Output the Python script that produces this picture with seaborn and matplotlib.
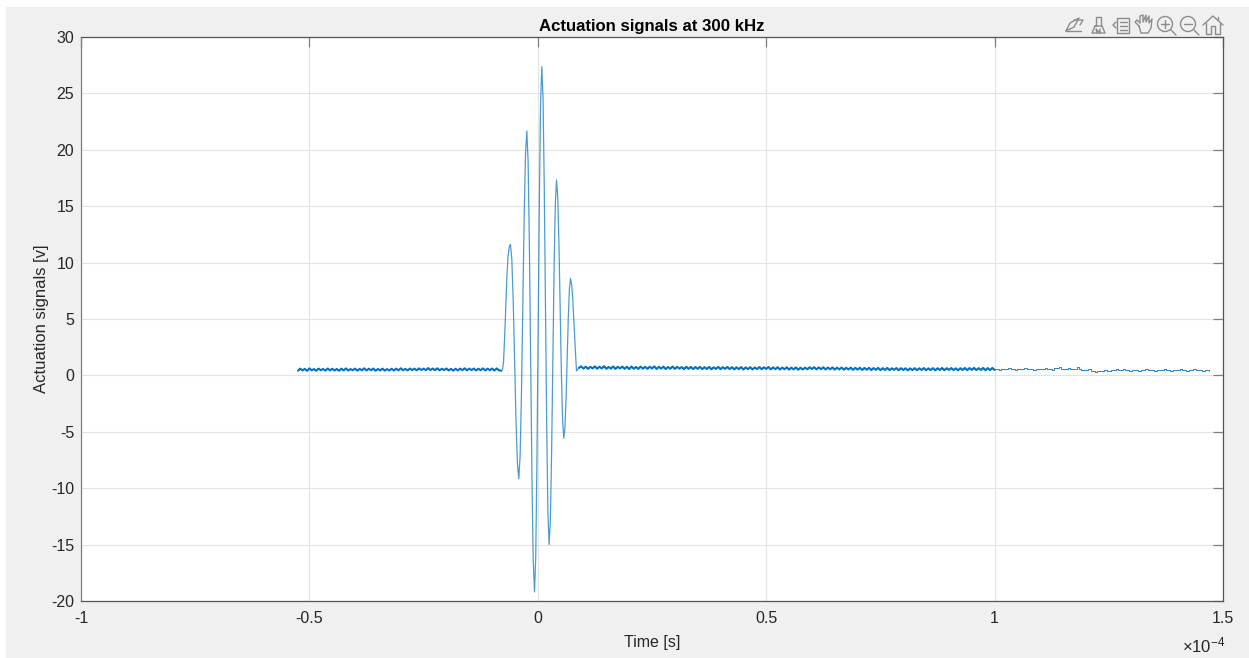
import numpy as np
import pandas as pd
import matplotlib
matplotlib.use("Agg")
import matplotlib.pyplot as plt
import seaborn as sns
from matplotlib.patches import Circle, Rectangle

# Time in units of 1e-4 s, voltage in V
burst_t = [-0.0773, -0.075, -0.0725, -0.070, -0.0675, -0.065, -0.0625, -0.0598,
           -0.0568, -0.0537, -0.0507, -0.0477, -0.0446, -0.0416,
           -0.0387, -0.0357, -0.0328, -0.0299, -0.0269, -0.024,
           -0.0212, -0.0184, -0.0156, -0.0128, -0.0100, -0.0072,
           -0.0045, -0.0019, 0.0008, 0.0035, 0.0061, 0.0088,
           0.0115, 0.0141, 0.0168, 0.0195, 0.0221, 0.0248,
           0.0275, 0.0302, 0.0329, 0.0356, 0.0383, 0.041,
           0.0437, 0.0463, 0.049, 0.0517, 0.0543, 0.057,
           0.0594, 0.0619, 0.0643, 0.0667, 0.0692, 0.0716,
           0.0742, 0.0768, 0.0794, 0.0819, 0.0847, 0.0875, 0.09]
burst_v = [0.5, 1.2, 3.5, 6.2, 8.9, 10.6, 11.4, 11.62,
           10.23, 6.42, 1.22, -3.98, -7.79, -9.18,
           -7.11, -1.47, 6.25, 13.96, 19.6, 21.67,
           18.93, 11.45, 1.24, -8.98, -16.46, -19.2,
           -16.08, -7.56, 4.09, 15.73, 24.25, 27.37,
           24.53, 16.78, 6.19, -4.41, -12.16, -15.0,
           -12.83, -6.92, 1.16, 9.24, 15.15, 17.32,
           15.79, 11.6, 5.87, 0.15, -4.05, -5.58,
           -4.63, -2.04, 1.51, 5.06, 7.65, 8.6,
           8.05, 6.55, 4.5, 2.45, 0.39, 0.55, 0.67]

sample_step = 0.005

left_start = -0.525
left_v = [0.42, 0.6, 0.44, 0.58, 0.4, 0.62, 0.45, 0.56, 0.41, 0.6,
          0.46, 0.57, 0.42, 0.61, 0.44, 0.59, 0.43, 0.57, 0.41, 0.6,
          0.44, 0.62, 0.43, 0.56, 0.46, 0.6, 0.42, 0.58, 0.45, 0.63,
          0.43, 0.59, 0.46, 0.61, 0.41, 0.57, 0.44, 0.6, 0.42, 0.56,
          0.44, 0.59, 0.43, 0.6, 0.45, 0.63, 0.46, 0.58, 0.44, 0.61,
          0.47, 0.6, 0.45, 0.62, 0.48, 0.6, 0.46, 0.65, 0.47, 0.61,
          0.46, 0.63, 0.45, 0.59, 0.47, 0.61, 0.44, 0.58, 0.42, 0.59,
          0.44, 0.6, 0.46, 0.63, 0.45, 0.6, 0.47, 0.61, 0.44, 0.59,
          0.46, 0.62, 0.44, 0.6, 0.46, 0.61, 0.43, 0.62, 0.45, 0.42]

mid_start = 0.09
mid_v = [0.67, 0.8, 0.6, 0.78, 0.58, 0.76, 0.62, 0.8, 0.59, 0.77,
         0.61, 0.82, 0.58, 0.75, 0.6, 0.79, 0.57, 0.76, 0.62, 0.78,
         0.58, 0.77, 0.56, 0.79, 0.59, 0.75, 0.57, 0.78, 0.6, 0.76,
         0.58, 0.77, 0.61, 0.8, 0.57, 0.76, 0.6, 0.78, 0.56, 0.75,
         0.59, 0.79, 0.57, 0.76, 0.6, 0.74, 0.55, 0.77, 0.58, 0.75,
         0.56, 0.74, 0.58, 0.76, 0.55, 0.73, 0.57, 0.75, 0.54, 0.72,
         0.57, 0.76, 0.55, 0.73, 0.58, 0.75, 0.56, 0.73, 0.53, 0.72,
         0.55, 0.74, 0.52, 0.71, 0.55, 0.73, 0.53, 0.7, 0.56, 0.74,
         0.54, 0.72, 0.57, 0.75, 0.53, 0.71, 0.55, 0.73, 0.52, 0.7,
         0.54, 0.72, 0.51, 0.69, 0.53, 0.71, 0.5, 0.68, 0.52, 0.69,
         0.54, 0.72, 0.56, 0.73, 0.53, 0.71, 0.55, 0.72, 0.52, 0.7,
         0.54, 0.71, 0.51, 0.69, 0.53, 0.7, 0.5, 0.68, 0.52, 0.69,
         0.49, 0.67, 0.51, 0.68, 0.48, 0.66, 0.5, 0.67, 0.47, 0.65,
         0.49, 0.67, 0.46, 0.64, 0.48, 0.66, 0.47, 0.63, 0.49, 0.65,
         0.46, 0.64, 0.48, 0.63, 0.45, 0.62, 0.47, 0.64, 0.46, 0.63,
         0.48, 0.65, 0.46, 0.62, 0.47, 0.64, 0.45, 0.63, 0.48, 0.66,
         0.46, 0.64, 0.49, 0.65, 0.47, 0.63, 0.45, 0.64, 0.48, 0.66,
         0.46, 0.65, 0.49, 0.67, 0.47, 0.64, 0.48, 0.66, 0.46, 0.65,
         0.47, 0.66, 0.48]

tail_start = 1.0
tail_v = [0.55, 0.55, 0.46, 0.55, 0.55, 0.55, 0.64, 0.55, 0.55, 0.47,
          0.6, 0.6, 0.6, 0.7, 0.6, 0.6, 0.6, 0.51, 0.6, 0.6,
          0.6, 0.6, 0.7, 0.6, 0.6, 0.52, 0.62, 0.62, 0.72, 0.55,
          0.55, 0.55, 0.66, 0.55, 0.6, 0.6, 0.72, 0.55, 0.44, 0.44,
          0.44, 0.54, 0.42, 0.42, 0.34, 0.42, 0.42, 0.42, 0.52, 0.42,
          0.42, 0.46, 0.46, 0.56, 0.48, 0.48, 0.58, 0.48, 0.48, 0.4,
          0.52, 0.52, 0.52, 0.42, 0.48, 0.48, 0.58, 0.46, 0.46, 0.46,
          0.38, 0.46, 0.46, 0.46, 0.56, 0.45, 0.45, 0.36, 0.45, 0.45,
          0.45, 0.55, 0.45, 0.45, 0.36, 0.47, 0.47, 0.58, 0.47, 0.47,
          0.47, 0.38, 0.45, 0.45, 0.36]

x_ticks = [-1, -0.5, 0, 0.5, 1, 1.5]
x_tick_labels = ["-1", "-0.5", "0", "0.5", "1", "1.5"]
y_ticks = [-20, -15, -10, -5, 0, 5, 10, 15, 20, 25, 30]
y_tick_labels = ["-20", "-15", "-10", "-5", "0", "5", "10", "15", "20", "25", "30"]

# Samples are evenly spaced outside the burst
left_t = left_start + sample_step * np.arange(len(left_v))
mid_t = mid_start + sample_step * np.arange(len(mid_v))
tail_t = tail_start + sample_step * np.arange(len(tail_v))

left_df = pd.DataFrame({"t": left_t, "v": left_v})
burst_df = pd.DataFrame({"t": burst_t, "v": burst_v})
mid_df = pd.DataFrame({"t": mid_t, "v": mid_v})
tail_df = pd.DataFrame({"t": tail_t, "v": tail_v})

sns.set_theme(style="whitegrid")
plt.rcParams["font.family"] = ["Liberation Sans", "DejaVu Sans"]
plt.rcParams["mathtext.fontset"] = "custom"
plt.rcParams["mathtext.rm"] = "Liberation Sans"
plt.rcParams["mathtext.default"] = "regular"

BG = "#f0f0f0"
DARK = "#262626"
AXIS = "#555555"
LINE = "#0072BD"

fig = plt.figure(figsize=(12.49, 6.58), dpi=100, facecolor="white")

# Window background and toolbar sit on an overlay in pixel coordinates
back = fig.add_axes([0, 0, 1, 1], zorder=0)
back.set_xlim(0, 1249)
back.set_ylim(658, 0)
back.axis("off")
back.add_patch(Rectangle((6, 7), 1243, 651, color=BG, lw=0))

ax = fig.add_axes([81 / 1249, 57 / 658, 1142 / 1249, 564 / 658], zorder=1, facecolor="white")
# noisy baseline renders as a thick band, burst and tail as a thin line
sns.lineplot(data=left_df, x="t", y="v", estimator=None, sort=False, color=LINE, linewidth=1.5, ax=ax)
sns.lineplot(data=mid_df, x="t", y="v", estimator=None, sort=False, color=LINE, linewidth=1.5, ax=ax)
sns.lineplot(data=burst_df, x="t", y="v", estimator=None, sort=False, color=LINE, linewidth=0.9,
             alpha=0.7, ax=ax)
sns.lineplot(data=tail_df, x="t", y="v", estimator=None, sort=False, color=LINE, linewidth=0.7,
             alpha=0.85, drawstyle="steps-post", ax=ax)

ax.set_xlim(-1, 1.5)
ax.set_ylim(-20, 30)
ax.set_xticks(x_ticks)
ax.set_xticklabels(x_tick_labels)
ax.set_yticks(y_ticks)
ax.set_yticklabels(y_tick_labels)
ax.grid(True, color="#e3e3e3", linewidth=0.8)
ax.set_axisbelow(True)
ax.tick_params(axis="both", direction="in", length=7, width=0.9, color="#808080", labelcolor=DARK,
               labelsize=11.5, top=True, right=True)
ax.tick_params(axis="x", pad=7)
ax.tick_params(axis="y", pad=5)
for side in ax.spines.values():
    side.set_color(AXIS)
    side.set_linewidth(0.9)
ax.spines["left"].set_color("#808080")

ax.set_title("Actuation signals at 300 kHz", fontsize=12.1, fontweight="bold", color="black", pad=4)
ax.set_xlabel("Time [s]", fontsize=11.5, color=DARK, labelpad=7)
ax.set_ylabel("Actuation signals [v]", fontsize=12, color=DARK, labelpad=1.5)

fig.text(1225 / 1249, 1 - 645 / 658, r"$\times 10^{-4}$", fontsize=12, color=DARK, ha="right", va="center")

# Toolbar icons
top = fig.add_axes([0, 0, 1, 1], zorder=2)
top.set_xlim(0, 1249)
top.set_ylim(658, 0)
top.axis("off")
top.patch.set_alpha(0)
ICON = "#8c8c8c"
def stroke(xs, ys):
    top.plot(xs, ys, color=ICON, lw=1.0, solid_capstyle="round")

# rotate / edit arrow
stroke([1066, 1081], [31, 31])
stroke([1066, 1070, 1079, 1074, 1066], [31, 23, 18, 27, 31])
stroke([1074, 1083, 1080], [20, 20, 25])
# brush
stroke([1096, 1096, 1101, 1101], [26, 17, 17, 26])
stroke([1095, 1092, 1105, 1102, 1095], [26, 33, 33, 26, 26])
stroke([1097, 1096, 1100, 1100], [33, 29, 33, 29])
# legend
stroke([1117, 1129, 1129, 1117, 1117], [18, 18, 33, 33, 18])
stroke([1120, 1127], [22, 22])
stroke([1120, 1127], [26, 26])
stroke([1120, 1127], [30, 30])
stroke([1116, 1113, 1116], [22, 25, 28])
# hand
stroke([1139, 1135, 1137, 1140, 1140, 1143, 1143, 1146, 1146, 1149, 1149, 1152, 1151, 1148, 1141, 1139],
       [26, 22, 20, 23, 16, 15, 22, 15, 22, 16, 23, 19, 28, 33, 33, 26])
# zoom in
top.add_patch(Circle((1165, 24), 7.5, fill=False, ec=ICON, lw=1.0))
stroke([1171, 1176], [30, 35])
stroke([1161, 1169], [24, 24])
stroke([1165, 1165], [20, 28])
# zoom out
top.add_patch(Circle((1188, 24), 7.5, fill=False, ec=ICON, lw=1.0))
stroke([1194, 1199], [30, 35])
stroke([1184, 1192], [24, 24])
# home
stroke([1203, 1213, 1223], [25, 16, 25])
stroke([1206, 1206, 1211, 1211, 1215, 1215, 1220, 1220], [23, 34, 34, 26, 26, 34, 34, 23])
stroke([1218, 1218], [20, 17])

plt.savefig("out.png", dpi=100, facecolor=fig.get_facecolor())
plt.close()
